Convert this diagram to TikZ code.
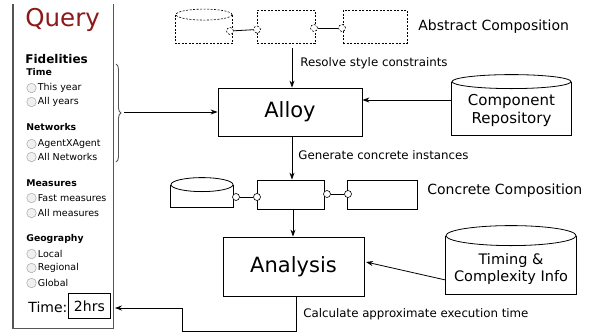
\documentclass[tikz,border=0pt]{standalone}
\usepackage{fontspec}
\setmainfont{DejaVu Sans}
\usetikzlibrary{calc,decorations.pathreplacing,arrows.meta}
\definecolor{queryred}{HTML}{8B1A1A}
\definecolor{panelgray}{HTML}{555555}
\begin{document}
\begin{tikzpicture}[x=1pt,y=-1pt,
  line width=0.8pt,
  arr/.style={-{Stealth[length=7pt,width=5pt]}},
  bigbox/.style={draw, inner sep=0pt},
  compbox/.style={draw, inner sep=0pt},
  dsh/.style={dash pattern=on 2pt off 1.5pt, line width=0.6pt},
  lbl/.style={font=\fontsize{11.8}{14}\selectfont, anchor=west, inner sep=0pt},
  title/.style={font=\fontsize{14}{16}\selectfont, anchor=west, inner sep=0pt},
  cyltext/.style={font=\fontsize{15}{18}\selectfont, align=center, inner sep=0pt},
  head/.style={font=\bfseries\fontsize{9.3}{11}\selectfont, anchor=west, inner sep=0pt},
  opt/.style={font=\fontsize{9.5}{11}\selectfont, anchor=west, inner sep=0pt},
  radio/.style={circle, draw=gray!70, fill=gray!12, line width=0.5pt, minimum size=9.5pt, inner sep=0pt},
  ball/.style={circle, draw, fill=white, minimum size=7pt, inner sep=0pt, line width=0.6pt},
  dball/.style={circle, draw, dsh, fill=white, minimum size=7pt, inner sep=0pt},
]
\useasboundingbox (0,0) rectangle (610,335);

% ---------- Query panel ----------
\node[minimum width=100pt, minimum height=324pt, inner sep=0pt, anchor=north west] (panel) at (13,4) {};
\draw[panelgray, line width=1.1pt] (panel.north west) -- (panel.south west) -- (panel.south east) -- (panel.north east);
\node[anchor=west, inner sep=0pt, text=queryred, font=\fontsize{24.5}{28}\selectfont] (qt) at (25,20) {Query};
\node[anchor=west, inner sep=0pt, font=\bfseries\fontsize{12}{14}\selectfont] (fid) at (25,59) {Fidelities};
\node[head] (h1) at (26,72) {Time};
\node[radio] (r1) at (31.5,88) {}; \node[opt] (o1) at (37.5,88) {This year};
\node[radio] (r2) at (31.5,102) {}; \node[opt] (o2) at (37.5,102) {All years};
\node[head] (h2) at (26,127) {Networks};
\node[radio] (r3) at (31.5,144) {}; \node[opt] (o3) at (37.5,144) {AgentXAgent};
\node[radio] (r4) at (31.5,157) {}; \node[opt] (o4) at (37.5,157) {All Networks};
\node[head] (h3) at (26,183) {Measures};
\node[radio] (r5) at (31.5,198) {}; \node[opt] (o5) at (37.5,198) {Fast measures};
\node[radio] (r6) at (31.5,213) {}; \node[opt] (o6) at (37.5,213) {All measures};
\node[head] (h4) at (26,239) {Geography};
\node[radio] (r7) at (31.5,254) {}; \node[opt] (o7) at (37.5,254) {Local};
\node[radio] (r8) at (31.5,268) {}; \node[opt] (o8) at (37.5,268) {Regional};
\node[radio] (r9) at (31.5,283) {}; \node[opt] (o9) at (37.5,283) {Global};
\node[anchor=west, inner sep=0pt, font=\fontsize{14}{16}\selectfont] (tl) at (28,307) {Time:};
\node[draw, line width=0.8pt, minimum width=42pt, minimum height=25pt, inner sep=0pt, anchor=north west, font=\fontsize{14}{16}\selectfont] (tbox) at (68,293) {2hrs};

% brace
\coordinate (bt) at (116,64);
\coordinate (bb) at (116,162);
\draw[panelgray, line width=0.9pt, decorate, decoration={brace, amplitude=5pt}] (bt) -- (bb);
\coordinate (btip) at (124,112);

% ---------- Main boxes ----------
\node[bigbox, minimum width=144pt, minimum height=48pt, font=\fontsize{21}{25}\selectfont] (alloy) at (290,112) {Alloy};
\node[bigbox, minimum width=141pt, minimum height=59pt, font=\fontsize{21}{25}\selectfont] (analysis) at (293.5,266.5) {Analysis};

% ---------- Cylinders ----------
\node[minimum width=119pt, minimum height=60pt, inner sep=0pt] (repo) at (511.5,105) {};
\draw ($(repo.north west)+(0,7)$) -- (repo.south west) -- (repo.south east) -- ($(repo.north east)+(0,7)$);
\draw ($(repo.north)+(0,7)$) ellipse (59.5 and 7);
\node[cyltext] (repotxt) at (511.5,110) {Component\\Repository};

\node[minimum width=130pt, minimum height=68pt, inner sep=0pt] (timing) at (511,260) {};
\draw ($(timing.north west)+(0,10)$) -- (timing.south west) -- (timing.south east) -- ($(timing.north east)+(0,10)$);
\draw ($(timing.north)+(0,10)$) ellipse (65 and 10);
\node[cyltext, font=\fontsize{14.5}{17.5}\selectfont] (timtxt) at (511,269) {Timing \&\\Complexity Info};

% ---------- Abstract composition ----------
\node[minimum width=56pt, minimum height=34pt, inner sep=0pt] (acyl) at (204,26) {};
\draw[dsh] ($(acyl.north west)+(0,6)$) -- (acyl.south west) -- (acyl.south east) -- ($(acyl.north east)+(0,6)$);
\draw[dsh] ($(acyl.north)+(0,6)$) ellipse (28 and 5.5);
\node[compbox, dsh, minimum width=58pt, minimum height=33pt] (am) at (286,26.5) {};
\node[compbox, dsh, minimum width=64pt, minimum height=33pt] (ar) at (375,26.5) {};
\node[dball] (ac1) at (230,31) {};
\node[dball] (ac2) at (257,29.5) {};
\node[dball] (ac3) at (314,28) {};
\node[dball] (ac4) at (342,28) {};
\draw (ac1) -- (ac2);
\draw (ac3) -- (ac4);
\node[title] (abst) at (418,27) {Abstract Composition};

% ---------- Concrete composition ----------
\node[minimum width=62pt, minimum height=29pt, inner sep=0pt] (ccyl) at (202,192.5) {};
\draw ($(ccyl.north west)+(0,7)$) -- (ccyl.south west) -- (ccyl.south east) -- ($(ccyl.north east)+(0,7)$);
\draw ($(ccyl.north)+(0,7)$) ellipse (31 and 7);
\node[compbox, minimum width=67pt, minimum height=29pt] (cm) at (290.5,194.5) {};
\node[compbox, minimum width=70pt, minimum height=29pt] (cr) at (382,194.5) {};
\node[ball] (cc1) at (236,197) {};
\node[ball] (cc2) at (257,197) {};
\node[ball] (cc3) at (327,194) {};
\node[ball] (cc4) at (348,194) {};
\draw (cc1) -- (cc2);
\draw (cc3) -- (cc4);
\node[title] (conct) at (427,191) {Concrete Composition};

% ---------- Connectors ----------
\coordinate (a1s) at (292,48);
\draw[arr] (a1s) -- (alloy.north -| a1s);
\node[lbl] (l1) at (300,63) {Resolve style constraints};

\draw[arr] (alloy.south -| a1s) -- (cm.north -| a1s);
\node[lbl] (l2) at (298,155) {Generate concrete instances};

\draw[arr] (cm.south -| 293,0) -- (analysis.north -| 293,0);

\draw[arr] (repo.west |- 0,100) -- (alloy.east |- 0,100);
\draw[arr] (timing.west |- 0,280) -- (366,262);
\draw[arr] (btip) -- (alloy.west |- btip);

\coordinate (c1) at (296,331);
\coordinate (c2) at (182,331);
\coordinate (c3) at (182,308);
\coordinate (tend) at (115,308);
\draw[arr] (analysis.south -| c1) -- (c1) -- (c2) -- (c3) -- (tend);
\node[lbl] (l3) at (303,314) {Calculate approximate execution time};
\end{tikzpicture}
\end{document}
